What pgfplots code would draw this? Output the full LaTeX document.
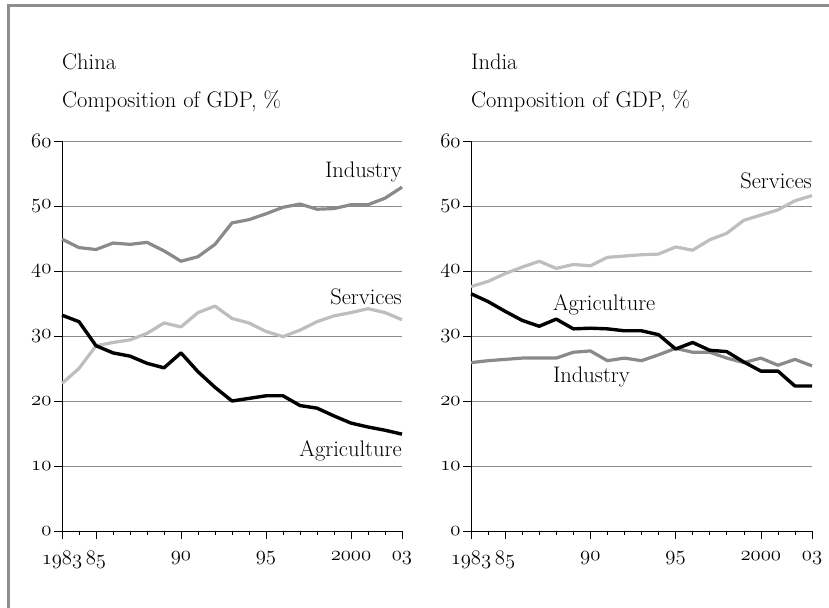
\documentclass[border=0pt]{standalone}
\usepackage{pgfplots}
\pgfplotsset{compat=1.18}
\newcommand{\osn}[1]{{\usefont{OML}{cmm}{m}{it}#1}}
\definecolor{indgray}{HTML}{8A8A8A}
\definecolor{srvgray}{HTML}{BEBEBE}
\definecolor{gridgray}{HTML}{8C8C8C}
\definecolor{framegray}{HTML}{8E8E8E}

\pgfplotstableread{
year ind srv agr
1983 44.9 22.7 33.2
1984 43.6 25.0 32.2
1985 43.3 28.5 28.5
1986 44.3 29.0 27.4
1987 44.1 29.4 26.9
1988 44.4 30.4 25.8
1989 43.1 32.0 25.1
1990 41.5 31.4 27.4
1991 42.2 33.6 24.5
1992 44.1 34.6 22.1
1993 47.4 32.7 20.0
1994 47.9 32.0 20.4
1995 48.8 30.7 20.8
1996 49.8 29.9 20.8
1997 50.3 30.9 19.3
1998 49.5 32.2 18.9
1999 49.6 33.1 17.7
2000 50.2 33.6 16.6
2001 50.2 34.2 16.0
2002 51.2 33.6 15.5
2003 52.9 32.5 14.9
}\china

\pgfplotstableread{
year ind srv agr
1983 25.9 37.6 36.5
1984 26.2 38.4 35.3
1985 26.4 39.6 33.8
1986 26.6 40.6 32.4
1987 26.6 41.5 31.5
1988 26.6 40.4 32.6
1989 27.5 41.0 31.1
1990 27.7 40.8 31.2
1991 26.2 42.1 31.1
1992 26.6 42.3 30.8
1993 26.2 42.5 30.8
1994 27.1 42.6 30.2
1995 28.1 43.7 28.0
1996 27.5 43.2 29.0
1997 27.5 44.8 27.8
1998 26.6 45.8 27.6
1999 25.9 47.8 26.0
2000 26.6 48.6 24.6
2001 25.5 49.4 24.6
2002 26.4 50.8 22.3
2003 25.4 51.6 22.3
}\india

\pgfplotsset{
  panel/.style={
    scale only axis, width=340bp, height=390bp,
    xmin=1983, xmax=2003, ymin=0, ymax=60,
    axis lines=left,
    axis line style={black, line width=0.6bp, -},
    xtick={1983,1985,1990,1995,2000,2003},
    xticklabels={\osn{1983},\osn{85},\osn{90},\osn{95},\osn{2000},\osn{03}},
    minor xtick={1984,1986,1987,1988,1989,1991,1992,1993,1994,1996,1997,1998,1999,2001,2002},
    ytick={0,10,20,30,40,50,60},
    yticklabels={\osn{0},\osn{10},\osn{20},\osn{30},\osn{40},\osn{50},\osn{60}},
    tick align=outside,
    major tick length=8bp, minor tick length=4bp,
    tick style={black, line width=0.6bp},
    ymajorgrids,
    major grid style={gridgray, line width=0.8bp},
    tick label style={font=\fontsize{21bp}{24bp}\selectfont},
    xticklabel style={yshift=-9bp},
    yticklabel style={xshift=1bp},
    clip=false,
    line join=round,
  },
  ind/.style={indgray, line width=3.2bp},
  srv/.style={srvgray, line width=3.2bp},
  agr/.style={black, line width=3.4bp},
}

\begin{document}
\begin{tikzpicture}[x=1bp,y=1bp, every node/.style={font=\fontsize{22.5bp}{26bp}\selectfont}]
\path[use as bounding box] (0,0) rectangle (829,608);
\draw[framegray, line width=2.5bp] (8.7,-20) -- (8.7,602.5) -- (850,602.5);

\node[anchor=base west, inner sep=0] at (62,538) {China};
\node[anchor=base west, inner sep=0] at (62,500) {Composition of GDP, \%};
\node[anchor=base west, inner sep=0] at (471,538) {India};
\node[anchor=base west, inner sep=0] at (471,500) {Composition of GDP, \%};

\begin{axis}[panel, at={(62bp,77bp)}, anchor=south west]
\addplot[ind] table[x=year,y=ind] {\china};
\addplot[srv] table[x=year,y=srv] {\china};
\addplot[agr] table[x=year,y=agr] {\china};
\node[anchor=east, inner sep=0] at (axis cs:2003,55.2) {Industry};
\node[anchor=east, inner sep=0] at (axis cs:2003,36.1) {Services};
\node[anchor=east, inner sep=0] at (axis cs:2003,12.3) {Agriculture};
\end{axis}

\begin{axis}[panel, at={(471bp,77bp)}, anchor=south west, width=341bp]
\addplot[ind] table[x=year,y=ind] {\india};
\addplot[srv] table[x=year,y=srv] {\india};
\addplot[agr] table[x=year,y=agr] {\india};
\node[anchor=east, inner sep=0] at (axis cs:2003,53.9) {Services};
\node[anchor=west, inner sep=0] at (axis cs:1987.8,34.8) {Agriculture};
\node[anchor=west, inner sep=0] at (axis cs:1987.8,23.7) {Industry};
\end{axis}
\end{tikzpicture}
\end{document}
